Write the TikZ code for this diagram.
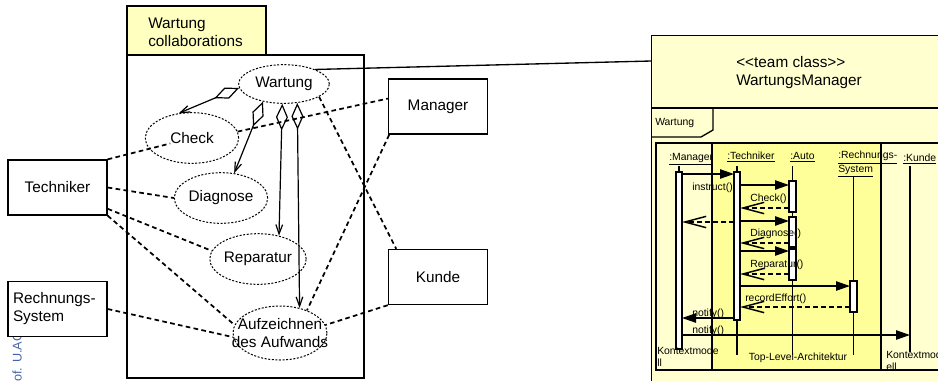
\documentclass[tikz,border=0pt]{standalone}
\usepackage{fontspec}
\setmainfont{Liberation Sans}
\usepackage{tikz}
\usetikzlibrary{
  arrows.meta,
  shapes.geometric,
  calc
}
\definecolor{collabTab}{RGB}{255,255,192}
\definecolor{teamBack}{RGB}{255,255,208}
\definecolor{topLevel}{RGB}{255,255,153}
\definecolor{stamp}{RGB}{70,100,170}
\tikzset{
  big text/.style={font=\fontsize{11.5}{13.5}\selectfont},
  small text/.style={font=\fontsize{7.8}{9}\selectfont,inner sep=0pt},
  actor/.style={draw,line width=1pt,fill=white,big text,minimum width=74.25pt,minimum height=41.25pt,inner sep=0pt},
  usecase/.style={ellipse,draw,line width=0.75pt,dash pattern=on 1.5pt off 1.2pt,big text,inner sep=0pt,minimum width=70pt,minimum height=38pt},
  assoc/.style={line width=1.3pt,dash pattern=on 3.5pt off 2.5pt},
  part of/.style={line width=0.9pt,{Diamond[open,length=20pt,width=9pt]}-{Straight Barb[length=7pt,width=5pt]}},
  lifeline/.style={line width=1pt},
  activation/.style={draw,line width=1.2pt,fill=white},
  msg/.style={line width=1.1pt,-{Triangle[length=10.5pt,width=7pt]}},
  reply/.style={line width=1.1pt,dash pattern=on 3.5pt off 2.5pt,-{Straight Barb[length=16pt,width=8.5pt]}},
}

\begin{document}
\begin{tikzpicture}[x=0.75pt,y=-0.75pt]
\useasboundingbox (0,0) rectangle (938,380);

% use case view
\node[rotate=90,anchor=west,text=stamp,font=\fontsize{9.5}{11}\selectfont,inner sep=0pt] (stamp) at (17,382) {of. U.AG};
\draw[line width=1pt,fill=collabTab] (127,6) rectangle (266,55);
\node[big text,anchor=west,align=left,inner sep=0pt] (collabTitle) at (148,32) {Wartung\\collaborations};
\draw[line width=1pt] (127,55) rectangle (364,378);

\node[usecase,minimum width=68pt,minimum height=29pt] (wartung) at (284,84) {Wartung};
\node[usecase] (check) at (192,138) {Check};
\node[usecase] (diagnose) at (221,198) {Diagnose};
\node[usecase] (reparatur) at (258,259) {Reparatur};
\node[usecase,align=center,inner xsep=-14pt,inner ysep=-6pt,minimum width=70.5pt,minimum height=40.5pt] (aufwand) at (280,333) {Aufzeichnen\\des Aufwands};

\node[actor] (techniker) at (57.5,187.5) {Techniker};
\node[actor,align=left,text width=66.75pt] (rechnung) at (57.5,309) {Rechnungs-\\System};
\node[actor] (manager) at (438,106.5) {Manager};
\node[actor] (kunde) at (438,277) {Kunde};

\draw[assoc] (techniker.north east) -- (check.text);
\draw[assoc] (check.8) -- (manager.171);
\draw[assoc] (techniker.east) -- (diagnose.west);
\draw[assoc] (techniker.-23) -- (reparatur.170);
\draw[assoc] (techniker.south east) -- (aufwand.170);
\draw[assoc] (rechnung.east) -- (aufwand.185);
\draw[assoc] (wartung.-20) -- (kunde.146);
\draw[assoc] (manager.-150) -- (aufwand.40);
\draw[assoc] (kunde.south west) -- (aufwand.10);

\draw[part of] (wartung.185) -- (check.118);
\draw[part of] (wartung.-140) -- (diagnose.62);
\draw[part of] (wartung.-95) -- (reparatur.48);
\draw[part of] (wartung.-55) -- (aufwand.52);

% team class
\node[draw,line width=1.1pt,fill=teamBack,anchor=north west,minimum width=300pt,minimum height=300pt] (teamClass) at (651,35) {};
\draw[line width=1pt] (wartung.25) -- ($(teamClass.north west)+(0,26)$);
\draw[line width=1.1pt] (651,108) -- (1000,108);
\node[big text,anchor=west,align=left,inner sep=0pt] (teamTitle) at (736,72.5) {<{}<team class>{}>\\WartungsManager};

\draw[line width=1pt] (713,108) -- (713,130) -- (701,137) -- (652,137);
\node[small text,anchor=west] (frameName) at (655,123) {Wartung};

\draw[line width=1pt] (656,143) rectangle (712,370);
\node[small text,anchor=west] (lblManager) at (669,159) {\underline{:Manager}};
\draw[line width=1.5pt,fill=topLevel] (712,143) rectangle (881,370);
\draw[line width=1pt] (881,143) rectangle (1000,370);

\node[small text,anchor=west] (lblTechniker) at (727,157) {\underline{:Techniker}};
\node[small text,anchor=west] (lblAuto) at (790,157) {\underline{:Auto}};
\node[small text,anchor=north west,align=left] (lblRechnung) at (838,151) {\underline{:Rechnungs-}\\\underline{System}};
\node[small text,anchor=west] (lblKunde) at (903,159) {\underline{:Kunde}};

\coordinate (managerR) at (682,0);
\coordinate (techL) at (734,0);
\coordinate (techR) at (740,0);
\coordinate (autoL) at (789,0);
\coordinate (rechL) at (850,0);
\coordinate (kundeX) at (910,0);

\draw[lifeline] (679,166) -- (679,172);
\draw[activation] (676,172) rectangle (682,349);
\draw[lifeline] (737,166) -- (737,355);
\draw[activation] (734,172) rectangle (740,320);
\draw[lifeline] (792.5,166) -- (792.5,355);
\foreach \yTop/\yBot in {181/212,217/247,249/280}
  \draw[activation] (789,\yTop) rectangle (796,\yBot);
\draw[lifeline] (853.5,176) -- (853.5,355);
\draw[activation] (850,281) rectangle (857,312);
\draw[lifeline] (910,166) -- (910,352);

\draw[msg] ($(managerR)+(0,174)$) -- ($(techL)+(0,174)$);
\node[small text,anchor=west] (opInstruct) at (692,188) {instruct()};
\foreach \yCall/\yBack/\opName in {185/208/Check(),221/243/Diagnose(),251/274/Reparatur()} {
  \draw[msg] ($(techR)+(0,\yCall)$) -- ($(autoL)+(0,\yCall)$);
  \draw[reply] ($(autoL)+(0,\yBack)$) -- ($(techR)+(0,\yBack)$);
  \node[small text,anchor=west] (op\yCall) at ($(techR)+(10,\yBack-9)$) {\opName};
}
\draw[reply] ($(techL)+(0,222)$) -- ($(managerR)+(0,222)$);
\draw[msg] ($(techR)+(0,286)$) -- ($(rechL)+(0,286)$);
\draw[reply] ($(rechL)+(0,307)$) -- ($(techR)+(0,307)$);
\node[small text,anchor=west] (opRecord) at (745,299) {recordEffort()};
\draw[msg] ($(techL)+(0,318)$) -- ($(managerR)+(0,318)$);
\node[small text,anchor=west] (opNotifyA) at (692,314) {notify()};
\draw[msg] ($(managerR)+(0,335)$) -- ($(kundeX)+(0,335)$);
\node[small text,anchor=west] (opNotifyB) at (692,331) {notify()};

\node[small text,anchor=north west,align=left] (ctxLeft) at (657,347) {Kontextmode\\ll};
\node[small text,anchor=north west,align=left] (ctxRight) at (886,351) {Kontextmod\\ell};
\node[small text] (topLevelName) at (798,358) {Top-Level-Architektur};
\end{tikzpicture}
\end{document}
